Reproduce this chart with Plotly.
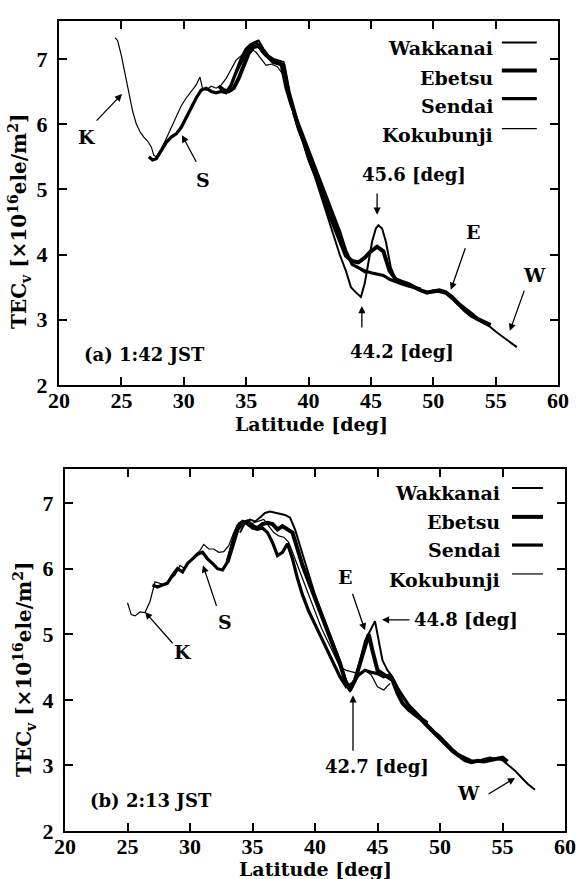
import plotly.graph_objects as go

# ---------------- Panel (a) 1:42 JST ----------------
a_kok_lat = [24.5, 24.7, 25.0, 25.3, 25.6, 25.9, 26.2, 26.5, 26.8, 27.1, 27.4, 27.6, 27.8, 28.2, 28.6, 29.0,
             29.4, 29.8, 30.2, 30.6, 31.0, 31.3, 31.5, 31.8, 32.2, 32.6, 33.0, 33.4, 33.8, 34.2, 34.6, 35.0,
             35.4, 35.8, 36.2, 36.6, 37.0, 37.5, 38.0, 38.4, 38.8, 39.2, 39.6, 40.0, 40.5, 41.0, 41.5, 42.0,
             42.5, 43.0, 43.5, 44.0, 44.5, 45.0, 45.5, 46.0, 46.5]
a_kok_tec = [7.32, 7.28, 7.05, 6.75, 6.45, 6.2, 6.0, 5.88, 5.8, 5.74, 5.65, 5.52, 5.5, 5.62, 5.78, 5.95,
             6.1, 6.28, 6.4, 6.5, 6.6, 6.72, 6.55, 6.52, 6.58, 6.55, 6.6, 6.7, 6.85, 6.98, 7.05, 7.12,
             7.15, 7.1, 7.0, 6.9, 6.92, 6.88, 6.75, 6.4, 6.15, 5.95, 5.75, 5.55, 5.3, 5.05, 4.8, 4.55,
             4.3, 4.05, 3.85, 3.78, 3.72, 3.73, 3.7, 3.68, 3.62]

a_sen_lat = [27.2, 27.5, 27.8, 28.2, 28.6, 29.0, 29.4, 29.8, 30.2, 30.6, 31.0, 31.4, 31.8, 32.2, 32.6, 33.0,
             33.4, 33.8, 34.2, 34.6, 35.0, 35.4, 35.8, 36.2, 36.6, 37.0, 37.4, 37.8, 38.2, 38.6, 39.0, 39.5,
             40.0, 40.5, 41.0, 41.5, 42.0, 42.5, 43.0, 43.5, 44.0, 44.5, 45.0, 45.5, 46.0, 46.5, 47.0, 47.5,
             48.0, 48.5, 49.0]
a_sen_tec = [5.5, 5.45, 5.47, 5.6, 5.72, 5.8, 5.85, 5.95, 6.1, 6.25, 6.4, 6.52, 6.55, 6.5, 6.48, 6.5,
             6.48, 6.6, 6.8, 7.0, 7.15, 7.22, 7.25, 7.15, 7.05, 7.0, 6.95, 6.92, 6.55, 6.3, 6.1, 5.85,
             5.6, 5.35, 5.1, 4.85, 4.6, 4.35, 4.05, 3.85, 3.8, 3.75, 3.72, 3.7, 3.68, 3.62, 3.58, 3.55,
             3.52, 3.5, 3.47]

a_ebe_lat = [32.8, 33.2, 33.6, 34.0, 34.4, 34.8, 35.2, 35.6, 36.0, 36.4, 36.8, 37.2, 37.6, 38.0, 38.4, 38.8,
             39.2, 39.6, 40.0, 40.5, 41.0, 41.5, 42.0, 42.5, 43.0, 43.5, 44.0, 44.5, 45.0, 45.5, 46.0, 46.5,
             47.0, 47.5, 48.0, 48.5, 49.0, 49.5, 50.0, 50.5, 51.0, 51.5, 52.0, 52.5, 53.0, 53.5, 54.0, 54.6]
a_ebe_tec = [6.58, 6.52, 6.5, 6.55, 6.7, 6.9, 7.08, 7.18, 7.2, 7.1, 7.02, 6.95, 6.93, 6.9, 6.5, 6.2,
             5.95, 5.75, 5.5, 5.25, 5.0, 4.7, 4.45, 4.2, 3.98, 3.9, 3.88, 3.95, 4.05, 4.12, 4.05, 3.75,
             3.62, 3.58, 3.55, 3.5, 3.45, 3.42, 3.44, 3.45, 3.42, 3.35, 3.25, 3.18, 3.1, 3.02, 2.97, 2.92]

a_wak_lat = [34.0, 34.4, 34.8, 35.2, 35.6, 36.0, 36.4, 36.8, 37.2, 37.6, 38.0, 38.4, 38.8, 39.2, 39.6, 40.0,
             40.5, 41.0, 41.5, 42.0, 42.5, 43.0, 43.4, 43.8, 44.2, 44.5, 44.8, 45.1, 45.4, 45.6, 45.9, 46.2,
             46.6, 47.0, 47.5, 48.0, 48.5, 49.0, 49.5, 50.0, 50.5, 51.0, 51.5, 52.0, 52.5, 53.0, 53.5, 54.0,
             54.5, 55.0, 55.5, 56.0, 56.4, 56.7]
a_wak_tec = [6.7, 6.85, 7.0, 7.15, 7.25, 7.28, 7.15, 7.05, 7.0, 6.98, 6.95, 6.55, 6.15, 5.9, 5.7, 5.45,
             5.2, 4.9, 4.6, 4.3, 4.0, 3.75, 3.5, 3.42, 3.35, 3.55, 3.9, 4.2, 4.4, 4.45, 4.4, 4.2,
             3.8, 3.62, 3.57, 3.53, 3.48, 3.44, 3.4, 3.45, 3.43, 3.4, 3.32, 3.22, 3.13, 3.05, 3.0, 2.95,
             2.9, 2.82, 2.75, 2.68, 2.62, 2.58]

# ---------------- Panel (b) 2:13 JST ----------------
b_kok_lat = [25.0, 25.3, 25.6, 26.0, 26.4, 26.8, 27.2, 27.6, 28.0, 28.4, 28.8, 29.2, 29.6, 30.0, 30.4, 30.8,
             31.1, 31.5, 31.9, 32.3, 32.7, 33.1, 33.5, 33.9, 34.3, 34.7, 35.1, 35.5, 35.9, 36.3, 36.7, 37.1,
             37.5, 37.9, 38.3, 38.7, 39.1, 39.5, 40.0, 40.5, 41.0, 41.5, 42.0, 42.5, 43.0, 43.5, 44.0, 44.5,
             45.0, 45.5, 46.0]
b_kok_tec = [5.48, 5.3, 5.28, 5.34, 5.33, 5.5, 5.8, 5.78, 5.75, 5.83, 5.9, 6.05, 6.0, 6.12, 6.2, 6.28,
             6.37, 6.3, 6.3, 6.25, 6.26, 6.35, 6.55, 6.7, 6.72, 6.65, 6.7, 6.72, 6.75, 6.65, 6.55, 6.5,
             6.48, 6.4, 6.2, 6.0, 5.8, 5.6, 5.35, 5.1, 4.9, 4.7, 4.5, 4.45, 4.42, 4.4, 4.45, 4.38,
             4.2, 4.15, 4.25]

b_sen_lat = [27.0, 27.4, 27.8, 28.2, 28.6, 29.0, 29.4, 29.8, 30.2, 30.6, 31.0, 31.4, 31.8, 32.2, 32.6, 33.0,
             33.4, 33.8, 34.2, 34.6, 35.0, 35.4, 35.8, 36.2, 36.6, 37.0, 37.4, 37.8, 38.2, 38.6, 39.0, 39.5,
             40.0, 40.5, 41.0, 41.5, 42.0, 42.5, 43.0, 43.5, 44.0, 44.5, 45.0, 45.5, 46.0, 46.5, 47.0, 47.5,
             48.0, 48.5, 49.0]
b_sen_tec = [5.75, 5.72, 5.75, 5.78, 5.9, 6.0, 5.95, 6.08, 6.15, 6.22, 6.25, 6.15, 6.08, 6.0, 5.98, 6.1,
             6.4, 6.65, 6.72, 6.68, 6.62, 6.6, 6.62, 6.55, 6.4, 6.2, 6.25, 6.38, 6.15, 5.85, 5.6, 5.35,
             5.15, 4.95, 4.75, 4.55, 4.35, 4.2, 4.25, 4.38, 4.45, 4.42, 4.4, 4.35, 4.38, 4.2, 4.05, 3.92,
             3.82, 3.72, 3.65]

b_ebe_lat = [33.0, 33.4, 33.8, 34.2, 34.6, 35.0, 35.4, 35.8, 36.2, 36.6, 37.0, 37.4, 37.8, 38.2, 38.6, 39.0,
             39.5, 40.0, 40.5, 41.0, 41.5, 42.0, 42.4, 42.8, 43.2, 43.6, 44.0, 44.3, 44.6, 45.0, 45.4, 45.8,
             46.2, 46.6, 47.0, 47.5, 48.0, 48.5, 49.0, 49.5, 50.0, 50.5, 51.0, 51.5, 52.0, 52.5, 53.0, 53.5,
             54.0, 54.5, 55.0, 55.4]
b_ebe_tec = [6.1, 6.35, 6.6, 6.7, 6.72, 6.65, 6.62, 6.68, 6.7, 6.68, 6.6, 6.65, 6.6, 6.55, 6.3, 6.05,
             5.8, 5.55, 5.3, 5.05, 4.8, 4.55, 4.3, 4.15, 4.3, 4.55, 4.85, 5.0, 4.75, 4.45, 4.4, 4.35,
             4.3, 4.1, 3.95, 3.85, 3.78, 3.7, 3.6, 3.5, 3.42, 3.32, 3.22, 3.15, 3.08, 3.05, 3.07, 3.06,
             3.08, 3.1, 3.12, 3.06]

b_wak_lat = [34.0, 34.4, 34.8, 35.2, 35.6, 36.0, 36.4, 36.8, 37.2, 37.6, 38.0, 38.4, 38.8, 39.2, 39.6, 40.0,
             40.5, 41.0, 41.5, 42.0, 42.4, 42.8, 43.2, 43.6, 44.0, 44.4, 44.8, 45.1, 45.4, 45.8, 46.2, 46.6,
             47.0, 47.5, 48.0, 48.5, 49.0, 49.5, 50.0, 50.5, 51.0, 51.5, 52.0, 52.5, 53.0, 53.5, 54.0, 54.5,
             55.0, 55.5, 56.0, 56.5, 57.0, 57.6]
b_wak_tec = [6.55, 6.7, 6.75, 6.72, 6.78, 6.85, 6.87, 6.85, 6.84, 6.82, 6.78, 6.6, 6.35, 6.1, 5.85, 5.6,
             5.35, 5.1, 4.85, 4.6, 4.35, 4.12, 4.3, 4.6, 4.9, 5.05, 5.2, 4.9, 4.6, 4.45, 4.35, 4.2,
             4.05, 3.92, 3.82, 3.72, 3.63, 3.53, 3.45, 3.35, 3.25, 3.17, 3.12, 3.08, 3.06, 3.1, 3.12, 3.1,
             3.08, 3.0, 2.92, 2.82, 2.72, 2.63]

stations = ["Wakkanai", "Ebetsu", "Sendai", "Kokubunji"]
x_ticks = [20, 25, 30, 35, 40, 45, 50, 55, 60]
y_ticks = [2, 3, 4, 5, 6, 7]

widths = {"Wakkanai": 2.0, "Ebetsu": 4.0, "Sendai": 3.2, "Kokubunji": 1.2}

panels = [
    dict(x="x", y="y", data={"Wakkanai": (a_wak_lat, a_wak_tec), "Ebetsu": (a_ebe_lat, a_ebe_tec),
                             "Sendai": (a_sen_lat, a_sen_tec), "Kokubunji": (a_kok_lat, a_kok_tec)}),
    dict(x="x2", y="y2", data={"Wakkanai": (b_wak_lat, b_wak_tec), "Ebetsu": (b_ebe_lat, b_ebe_tec),
                               "Sendai": (b_sen_lat, b_sen_tec), "Kokubunji": (b_kok_lat, b_kok_tec)}),
]

fig = go.Figure()
for p in panels:
    for st in ["Kokubunji", "Sendai", "Ebetsu", "Wakkanai"]:
        lat, tec = p["data"][st]
        fig.add_trace(go.Scatter(x=lat, y=tec, mode="lines", name=st, showlegend=False,
                                 xaxis=p["x"], yaxis=p["y"],
                                 line=dict(color="black", width=widths[st])))

TF = "DejaVu Serif"
tick_font = dict(family="Liberation Serif", size=22, color="black", weight="bold")
ann_font = dict(family=TF, size=18, color="black", weight="bold")

def xax(domain, anchor):
    return dict(domain=domain, anchor=anchor, range=[20, 60], tickvals=x_ticks,
                ticks="inside", ticklen=8, tickwidth=1.5, tickcolor="black",
                showline=True, linecolor="black", linewidth=2, mirror="ticks",
                showgrid=False, zeroline=False, tickfont=tick_font, automargin=False)

def yax(domain, anchor, rng):
    return dict(domain=domain, anchor=anchor, range=rng, tickvals=y_ticks,
                ticks="inside", ticklen=8, tickwidth=1.5, tickcolor="black",
                showline=True, linecolor="black", linewidth=2, mirror="ticks",
                showgrid=False, zeroline=False, tickfont=tick_font, automargin=False)

fig.update_layout(
    width=576, height=879, plot_bgcolor="white", paper_bgcolor="white",
    margin=dict(l=0, r=0, t=0, b=0, autoexpand=False),
    xaxis=xax([59 / 576, 558 / 576], "y"),
    yaxis=yax([1 - 385 / 879, 1 - 21 / 879], "x", [2, 7.58]),
    xaxis2=xax([65 / 576, 565 / 576], "y2"),
    yaxis2=yax([1 - 831 / 879, 1 - 469 / 879], "x2", [2, 7.52]),
)
try:
    fig.update_xaxes(ticklabelstandoff=-5)
except Exception:
    pass
try:
    fig.update_yaxes(ticklabelstandoff=5)
except Exception:
    pass

anns = []
def label(xr, yr, x, y, text, xanchor="center", size=18):
    f = dict(ann_font); f["size"] = size
    anns.append(dict(xref=xr, yref=yr, x=x, y=y, text=text, showarrow=False,
                     xanchor=xanchor, yanchor="middle", font=f))

def arrow(xr, yr, x0, y0, x1, y1):
    anns.append(dict(xref=xr, yref=yr, x=x1, y=y1, ax=x0, ay=y0, axref=xr, ayref=yr,
                     text="", showarrow=True, arrowhead=2, arrowsize=1.1, arrowwidth=1.3,
                     arrowcolor="black"))

# Panel (a) labels
label("x", "y", 22.24, 5.80, "K", size=19)
arrow("x", "y", 22.9, 6.03, 25.05, 6.46)
label("x", "y", 31.54, 5.14, "S", size=19)
arrow("x", "y", 31.06, 5.40, 29.86, 5.83)
label("x", "y", 48.45, 5.22, "45.6 [deg]")
arrow("x", "y", 45.5, 4.96, 45.5, 4.61)
label("x", "y", 47.48, 2.51, "44.2 [deg]")
arrow("x", "y", 44.28, 2.86, 44.28, 3.21)
label("x", "y", 53.17, 4.35, "E", size=19)
arrow("x", "y", 52.61, 4.12, 51.41, 3.46)
label("x", "y", 58.14, 3.69, "W", size=19)
arrow("x", "y", 57.34, 3.47, 56.14, 2.83)
label("x", "y", 21.84, 2.46, "(a) 1:42 JST", xanchor="left")

# Panel (b) labels
label("x2", "y2", 29.44, 4.73, "K", size=19)
arrow("x2", "y2", 28.72, 4.84, 26.4, 5.34)
label("x2", "y2", 32.8, 5.19, "S", size=19)
arrow("x2", "y2", 32.16, 5.41, 31.04, 6.05)
label("x2", "y2", 42.4, 5.87, "E", size=19)
arrow("x2", "y2", 42.96, 5.64, 44.0, 5.06)
label("x2", "y2", 47.76, 5.22, "44.8 [deg]", xanchor="left")
arrow("x2", "y2", 47.68, 5.22, 45.36, 5.22)
label("x2", "y2", 44.96, 2.99, "42.7 [deg]")
arrow("x2", "y2", 43.04, 3.20, 43.04, 4.07)
label("x2", "y2", 52.24, 2.58, "W", size=19)
arrow("x2", "y2", 53.76, 2.55, 56.0, 2.81)
label("x2", "y2", 21.84, 2.47, "(b) 2:13 JST", xanchor="left")

# Legend blocks (text + sample line to its right)
leg_a_text_y = [7.17, 6.71, 6.28, 5.83]
leg_a_line_y = [7.25, 6.82, 6.39, 5.93]
leg_b_text_y = [7.15, 6.71, 6.28, 5.83]
leg_b_line_y = [7.23, 6.79, 6.36, 5.92]
shapes = []
for st, ty, ly in zip(stations, leg_a_text_y, leg_a_line_y):
    label("x", "y", 54.94, ty, st, xanchor="right", size=19)
    shapes.append(dict(type="line", xref="x", yref="y", x0=55.5, x1=58.3, y0=ly, y1=ly,
                       line=dict(color="black", width=widths[st])))
for st, ty, ly in zip(stations, leg_b_text_y, leg_b_line_y):
    label("x2", "y2", 54.96, ty, st, xanchor="right", size=19)
    shapes.append(dict(type="line", xref="x2", yref="y2", x0=55.76, x1=58.24, y0=ly, y1=ly,
                       line=dict(color="black", width=widths[st])))

# Axis titles
xt_font = dict(family=TF, size=19, color="black", weight="bold")
yt_font = dict(family=TF, size=20, color="black", weight="bold")
anns.append(dict(xref="paper", yref="paper", x=311 / 576, y=1 - 424 / 879, text="Latitude [deg]",
                 showarrow=False, font=xt_font, xanchor="center", yanchor="middle"))
anns.append(dict(xref="paper", yref="paper", x=315 / 576, y=1 - 869 / 879, text="Latitude [deg]",
                 showarrow=False, font=xt_font, xanchor="center", yanchor="middle"))
ytitle = "TEC<sub>v</sub> [×10<sup>16</sup>ele/m<sup>2</sup>]"
anns.append(dict(xref="paper", yref="paper", x=20 / 576, y=1 - 222 / 879, text=ytitle, textangle=-90,
                 showarrow=False, font=yt_font, xanchor="center", yanchor="middle"))
anns.append(dict(xref="paper", yref="paper", x=24 / 576, y=1 - 670 / 879, text=ytitle, textangle=-90,
                 showarrow=False, font=yt_font, xanchor="center", yanchor="middle"))

fig.update_layout(annotations=anns, shapes=shapes)
fig.write_html("out.html", config={"displayModeBar": False},
               post_script="document.body.style.margin='0';document.body.style.overflow='hidden';")
